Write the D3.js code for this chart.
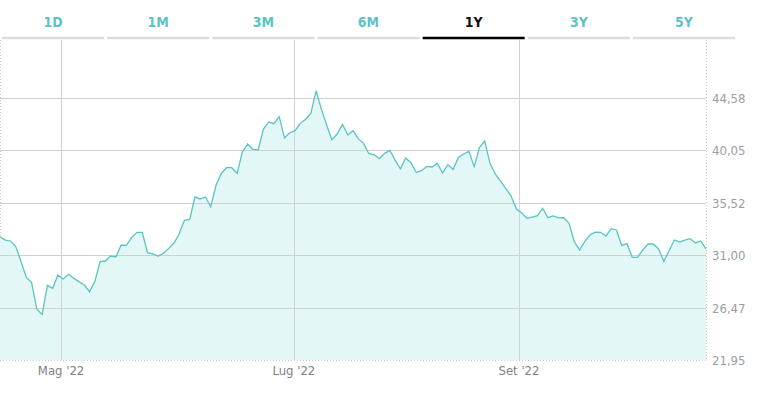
<!DOCTYPE html>
<html><head><meta charset="utf-8">
<script src="https://cdn.jsdelivr.net/npm/d3@7"></script>
<style>body{margin:0;background:#fff}svg{font-family:"Liberation Sans Narrow","DejaVu Sans Condensed",sans-serif}</style>
</head><body><svg id="c" width="759" height="403"></svg>
<script>
var tabs = ["1D","1M","3M","6M","1Y","3Y","5Y"];
var activeTab = "1Y";
var yTicks = [21.95,26.47,31.00,35.52,40.05,44.58];
var monthTicks = [["Mag '22","2022-05-01"],["Lug '22","2022-07-01"],["Set '22","2022-08-29"]];
var startDate = "2022-04-15", endDate = "2022-10-17";
var prices = [32.60,32.31,32.23,31.74,30.44,29.09,28.63,26.33,25.89,28.40,28.14,29.29,28.95,29.35,29.00,28.72,28.43,27.85,28.72,30.44,
30.50,30.93,30.85,31.88,31.85,32.54,32.98,32.98,31.22,31.11,30.93,31.16,31.59,32.03,32.83,34.01,34.10,36.03,35.86,36.03,
35.19,37.04,38.07,38.56,38.56,38.07,39.91,40.61,40.15,40.09,41.90,42.51,42.36,42.97,41.12,41.58,41.76,42.39,42.74,43.25,
45.21,43.60,42.25,40.98,41.47,42.30,41.41,41.76,41.07,40.66,39.77,39.68,39.34,39.80,40.06,39.22,38.45,39.40,38.99,38.16,
38.30,38.68,38.62,38.94,38.10,38.82,38.42,39.45,39.74,39.97,38.65,40.29,40.87,38.94,38.02,37.41,36.76,36.11,34.99,34.67,
34.19,34.30,34.42,35.05,34.24,34.39,34.22,34.24,33.75,32.17,31.45,32.20,32.77,33.00,32.98,32.66,33.29,33.18,31.85,32.00,
30.82,30.82,31.45,31.97,31.97,31.54,30.47,31.39,32.31,32.14,32.31,32.43,32.06,32.23,31.54];

var svg = d3.select("#c");
var W = 706, plotTop = 40, plotBottom = 360;

// tabs
var tx = d3.scaleBand().domain(tabs).range([2,735]).paddingInner(0.03);
var tg = svg.append("g").selectAll("g").data(tabs).enter().append("g");
tg.append("line").attr("x1", d => tx(d)).attr("x2", d => tx(d)+tx.bandwidth())
  .attr("y1",38).attr("y2",38)
  .attr("stroke", d => d==activeTab ? "#000" : "#d9dde0").attr("stroke-width",2.5);
tg.append("text").attr("x", d => tx(d)+tx.bandwidth()/2).attr("y",27)
  .attr("text-anchor","middle").attr("font-size",14).attr("font-weight","bold")
  .attr("fill", d => d==activeTab ? "#111" : "#5cc3c3").text(d => d);

var y = d3.scaleLinear().domain([21.95, 21.95+(plotBottom-plotTop)*(44.58-21.95)/262]).range([plotBottom, plotTop]);
var xi = d3.scaleLinear().domain([0, prices.length-1]).range([0, W]);
var xt = d3.scaleTime().domain([new Date(startDate), new Date(endDate)]).range([0, W]);

// borders
svg.append("line").attr("x1",0.5).attr("x2",0.5).attr("y1",plotTop).attr("y2",plotBottom).attr("stroke","#ccc").attr("stroke-dasharray","1,2");
svg.append("line").attr("x1",W+0.5).attr("x2",W+0.5).attr("y1",plotTop).attr("y2",plotBottom).attr("stroke","#ccc").attr("stroke-dasharray","1,2");

// area
svg.append("path").datum(prices).attr("fill","#e3f7f7")
  .attr("d", d3.area().x((d,i) => xi(i)).y0(plotBottom).y1(d => y(d)));

// y grid + labels
svg.append("g").selectAll("line").data(yTicks.slice(1)).enter().append("line")
  .attr("x1",0).attr("x2",W).attr("y1", d => Math.round(y(d))+0.5).attr("y2", d => Math.round(y(d))+0.5)
  .attr("stroke","#d0d0d0");
svg.append("g").selectAll("text").data(yTicks).enter().append("text")
  .attr("x",712).attr("y", d => y(d)+5).attr("font-size",13).attr("fill","#9a9ea3")
  .text(d => d.toFixed(2).replace(".",","));
svg.append("line").attr("x1",0).attr("x2",W).attr("y1",plotBottom+0.5).attr("y2",plotBottom+0.5).attr("stroke","#ccc").attr("stroke-dasharray","1,2");

// month grid
svg.append("g").selectAll("line").data(monthTicks).enter().append("line")
  .attr("x1", d => Math.round(xt(new Date(d[1])))+0.5).attr("x2", d => Math.round(xt(new Date(d[1])))+0.5)
  .attr("y1",plotTop).attr("y2",plotBottom).attr("stroke","#cfd3d3");
svg.append("g").selectAll("text").data(monthTicks).enter().append("text")
  .attr("x", d => xt(new Date(d[1]))).attr("y",375).attr("text-anchor","middle")
  .attr("font-size",13).attr("fill","#7d8388").text(d => d[0]);

svg.append("path").datum(prices).attr("fill","none").attr("stroke","#5cc3c3").attr("stroke-width",1.3)
  .attr("d", d3.line().x((d,i) => xi(i)).y(d => y(d)));
</script></body></html>
